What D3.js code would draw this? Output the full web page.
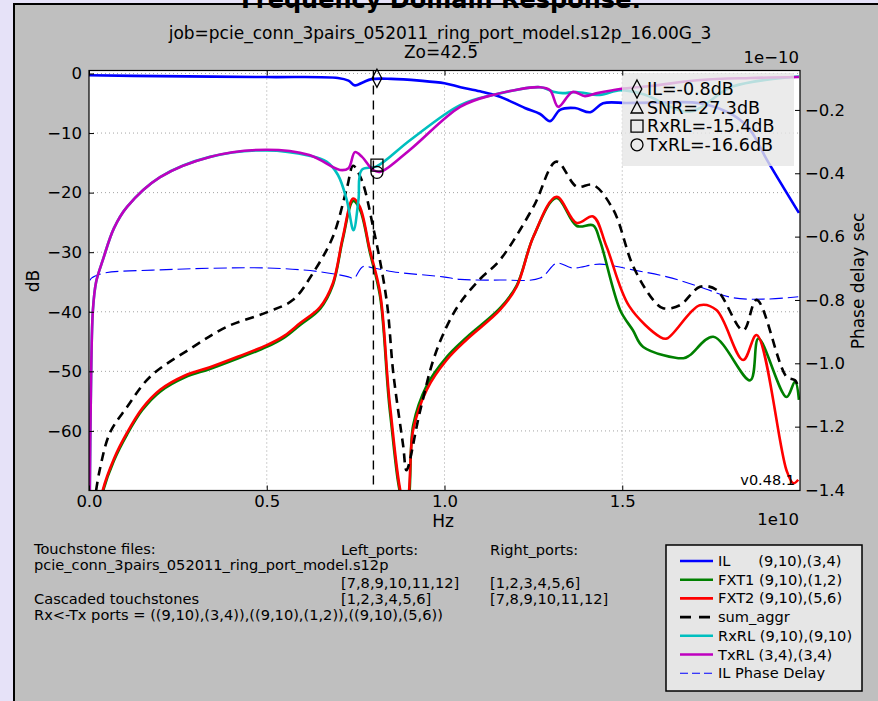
<!DOCTYPE html>
<html>
<head>
<meta charset="utf-8">
<script src="https://cdn.jsdelivr.net/npm/d3@7"></script>
<style>
  html, body { margin: 0; padding: 0; background: #e6e2f8; overflow: hidden; }
  svg { display: block; font-family: "DejaVu Sans", sans-serif; }
</style>
</head>
<body>
<svg id="chart" width="878" height="701"></svg>
<script>
// frequency in GHz, magnitude in dB
const ilData = [[0,-0.3],[2,-0.45],[5,-0.6],[7,-0.75],[7.3,-1.2],[7.48,-2.0],[7.7,-1.5],[7.95,-0.95],[8.5,-0.9],[9.3,-1.2],[10,-1.65],[10.45,-2.3],[11,-3.0],[11.56,-3.9],[12.26,-5.8],[12.69,-6.8],[12.97,-8.0],[13.25,-6.1],[13.67,-5.8],[14.1,-6.5],[14.46,-5.0],[15.13,-4.95],[16,-4.9],[17.19,-5.0],[18.12,-7.0],[18.6,-9.5],[19.07,-14.5],[19.97,-23.4]];
const fxt1Data = [[0.33,-72],[0.39,-70.2],[0.7,-65],[1.07,-60.6],[1.5,-56.5],[2.0,-53.4],[2.7,-51],[3.4,-49.6],[4.2,-47.8],[5.0,-45.9],[5.5,-44.3],[5.94,-42.2],[6.5,-39.5],[6.86,-35.5],[7.14,-27.8],[7.43,-21.4],[7.62,-22.8],[7.9,-30],[8.19,-37.5],[8.47,-57],[8.85,-72],[8.95,-72],[9.12,-59],[9.5,-52.4],[10.06,-47.6],[10.62,-44.3],[11.56,-39.4],[12.03,-35.6],[12.5,-27.4],[13.15,-20.9],[13.72,-25.6],[14.18,-25.5],[14.37,-28],[14.94,-39.7],[15.3,-43.1],[15.59,-45.9],[16.72,-47.8],[16.9,-47.3],[17.56,-44.2],[18.6,-51.5],[18.83,-44.5],[19.62,-54.3],[19.86,-51.7],[19.97,-54.8]];
const fxt2Data = [[0.33,-72],[0.39,-69.9],[0.7,-64.7],[1.07,-60.3],[1.5,-56.2],[2.0,-53.1],[2.7,-50.7],[3.4,-49.3],[4.2,-47.5],[5.0,-45.6],[5.5,-44.0],[5.94,-41.9],[6.5,-39.2],[6.86,-35.2],[7.14,-27.5],[7.43,-21.0],[7.62,-22.4],[7.9,-29.6],[8.19,-36.9],[8.47,-55.9],[8.86,-72],[8.94,-72],[9.12,-59.8],[9.5,-53.1],[10.06,-48.1],[10.62,-44.7],[11.56,-39.7],[12.03,-35.8],[12.5,-27.4],[13.15,-20.7],[13.72,-25.1],[14.18,-24.0],[14.56,-29.1],[15.2,-39.1],[16.06,-44.2],[16.25,-44.5],[17.18,-38.9],[17.65,-39.7],[18.4,-48.1],[18.78,-43.9],[19.62,-66.6],[19.81,-68.8],[19.95,-68.2]];
const sumData = [[0.2,-70],[0.3,-66.6],[0.59,-60.3],[1.07,-56],[1.72,-50.9],[2.93,-45.9],[3.88,-42.5],[5.0,-40.1],[5.74,-38.0],[6.3,-33.5],[6.86,-27.4],[7.26,-19.1],[7.43,-15.5],[7.67,-17.9],[7.99,-25.7],[8.37,-38],[8.56,-50.3],[8.84,-62.6],[8.93,-66.6],[9.3,-57],[9.69,-48],[10.06,-42.5],[10.44,-38.5],[11.0,-34.5],[11.56,-31.3],[12.5,-22.4],[13.15,-14.8],[13.72,-19.0],[14.18,-18.7],[14.75,-22.9],[15.31,-32.4],[15.87,-38.0],[16.15,-39.4],[16.62,-38.9],[17.19,-35.8],[17.65,-36.3],[18.4,-43.1],[18.78,-38.0],[19.62,-50.9],[19.86,-51.5],[19.95,-52.6]];
const rxrlData = [[0.02,-72],[0.05,-55],[0.11,-39.7],[0.2,-35],[0.39,-31.3],[0.7,-26],[1.07,-22.4],[2.0,-17.4],[3.4,-14.0],[5.0,-12.9],[6.2,-13.8],[6.68,-14.8],[7.0,-17],[7.25,-21.2],[7.44,-26.3],[7.58,-21.2],[7.67,-16.2],[8.09,-15.6],[9.03,-11.2],[10.44,-5.3],[11.36,-3.6],[12.69,-2.3],[13.06,-3.05],[13.33,-3.3],[13.7,-3.1],[14.37,-3.6],[14.94,-2.8],[15.6,-3.5],[16.9,-6.4],[18.1,-2.2],[19.97,-0.5]];
const txrlData = [[0.02,-72],[0.05,-55],[0.11,-39.7],[0.2,-35],[0.39,-31.3],[0.7,-26],[1.07,-22.4],[2.0,-17.4],[3.4,-14.0],[5.0,-12.8],[6.2,-13.7],[7.06,-16.2],[7.3,-15.9],[7.48,-13.2],[7.68,-14.0],[7.99,-16.2],[8.2,-16.5],[9.03,-12.8],[10.44,-5.6],[11.36,-3.6],[12.69,-2.3],[12.97,-2.8],[13.2,-5.6],[13.6,-3.1],[13.95,-3.8],[14.3,-3.3],[14.94,-2.6],[15.8,-2.1],[17.2,-1.1],[18.6,-0.76],[19.97,-0.6]];
// phase delay, units of 1e-10 s
const phaseData = [[0.03,-0.738],[0.07,-0.731],[0.39,-0.716],[2.0,-0.705],[5.0,-0.699],[6.5,-0.711],[7.3,-0.727],[7.45,-0.732],[7.7,-0.695],[8.0,-0.699],[8.55,-0.711],[9.96,-0.727],[10.44,-0.735],[11.56,-0.737],[12.69,-0.731],[13.16,-0.684],[13.6,-0.699],[14.37,-0.687],[15.3,-0.705],[16.26,-0.727],[17.19,-0.759],[18.12,-0.793],[19.07,-0.797],[19.95,-0.79]];

const xTicks = [0, 5, 10, 15];
const xTickLabels = ["0.0", "0.5", "1.0", "1.5"];
const dbTicks = [0, -10, -20, -30, -40, -50, -60];
const phaseTicks = [-0.2, -0.4, -0.6, -0.8, -1.0, -1.2, -1.4];

const markerFreq = 8.1;
const markerLabels = ["IL=-0.8dB", "SNR=27.3dB", "RxRL=-15.4dB", "TxRL=-16.6dB"];
const markerValues = [-0.8, null, -15.4, -16.6];
const markerShapes = ["diamond", "triangle", "square", "circle"];

const legendNames = ["IL      (9,10),(3,4)", "FXT1 (9,10),(1,2)", "FXT2 (9,10),(5,6)", "sum_aggr",
  "RxRL (9,10),(9,10)", "TxRL (3,4),(3,4)", "IL Phase Delay"];

const svg = d3.select("#chart");

// figure background
svg.append("rect").attr("x", 14).attr("y", 4).attr("width", 900).attr("height", 720)
  .attr("fill", "#bfbfbf").attr("stroke", "#000").attr("stroke-width", 2);

svg.append("text").attr("x", 441).attr("y", 8).attr("text-anchor", "middle")
  .attr("font-size", 24).attr("font-weight", "bold").text("Frequency Domain Response:");
svg.append("text").attr("x", 440).attr("y", 39).attr("text-anchor", "middle")
  .attr("font-size", 17).text("job=pcie_conn_3pairs_052011_ring_port_model.s12p_16.00G_3");
svg.append("text").attr("x", 441).attr("y", 58).attr("text-anchor", "middle")
  .attr("font-size", 17).text("Zo=42.5");

const pL = 89, pR = 800, pT = 70.5, pB = 490.5;
const x = d3.scaleLinear().domain([0, 20]).range([pL, pR]);
const y = d3.scaleLinear().domain([-70, 0.5]).range([pB, pT]);
const y2 = d3.scaleLinear().domain([-1.4016, -0.0755]).range([pB, pT]);

svg.append("rect").attr("x", pL).attr("y", pT).attr("width", pR - pL).attr("height", pB - pT)
  .attr("fill", "#fff");

svg.append("clipPath").attr("id", "plotclip").append("rect")
  .attr("x", pL).attr("y", pT).attr("width", pR - pL).attr("height", pB - pT);

// grid
const grid = svg.append("g").attr("stroke", "#000").attr("stroke-width", 0.6)
  .attr("stroke-dasharray", "1,3").attr("opacity", 0.6);
grid.selectAll("line.v").data(xTicks.slice(1)).join("line")
  .attr("x1", d => x(d)).attr("x2", d => x(d)).attr("y1", pT).attr("y2", pB);
grid.selectAll("line.h").data(dbTicks).join("line")
  .attr("x1", pL).attr("x2", pR).attr("y1", d => y(d)).attr("y2", d => y(d));

const plot = svg.append("g").attr("clip-path", "url(#plotclip)");
const line = d3.line().x(d => x(d[0])).y(d => y(d[1])).curve(d3.curveCatmullRom.alpha(0.5));
const line2 = d3.line().x(d => x(d[0])).y(d => y2(d[1])).curve(d3.curveCatmullRom.alpha(0.5));

const series = [
  { data: ilData, color: "#0000ff", width: 2.6 },
  { data: fxt1Data, color: "#008000", width: 2.6 },
  { data: fxt2Data, color: "#ff0000", width: 2.6 },
  { data: sumData, color: "#000000", width: 2.6, dash: "9,6" },
  { data: rxrlData, color: "#00bfbf", width: 2.6 },
  { data: txrlData, color: "#bf00bf", width: 2.6 }
];

plot.append("path").attr("d", line2(phaseData)).attr("fill", "none")
  .attr("stroke", "#0000ff").attr("stroke-width", 1.1).attr("stroke-dasharray", "13,5");

series.forEach(s => {
  plot.append("path").attr("d", line(s.data)).attr("fill", "none")
    .attr("stroke", s.color).attr("stroke-width", s.width)
    .attr("stroke-linejoin", "round")
    .attr("stroke-dasharray", s.dash || null);
});

// 8 GHz marker line
plot.append("line").attr("x1", x(8)).attr("x2", x(8)).attr("y1", pT).attr("y2", pB)
  .attr("stroke", "#000").attr("stroke-width", 1.4).attr("stroke-dasharray", "9,6");

function shapePath(kind, cx, cy, s) {
  if (kind === "diamond") return `M${cx},${cy - s * 0.75}L${cx + s * 0.4},${cy}L${cx},${cy + s * 0.75}L${cx - s * 0.4},${cy}Z`;
  if (kind === "triangle") return `M${cx},${cy - s * 0.5}L${cx + s * 0.5},${cy + s * 0.45}L${cx - s * 0.5},${cy + s * 0.45}Z`;
  if (kind === "square") return `M${cx - s * 0.5},${cy - s * 0.5}h${s}v${s}h${-s}Z`;
  return `M${cx + s * 0.5},${cy}A${s * 0.5},${s * 0.5} 0 1,1 ${cx - s * 0.5},${cy}A${s * 0.5},${s * 0.5} 0 1,1 ${cx + s * 0.5},${cy}Z`;
}

markerValues.forEach((v, i) => {
  if (v === null) return;
  svg.append("path").attr("d", shapePath(markerShapes[i], x(markerFreq), y(v), 12))
    .attr("fill", "none").attr("stroke", "#000").attr("stroke-width", 1.3);
});

// annotation box
svg.append("rect").attr("x", 622).attr("y", 73).attr("width", 172).attr("height", 93)
  .attr("fill", "#e6e6e6").attr("opacity", 0.8);
markerLabels.forEach((t, i) => {
  const cy = 89 + i * 18.6;
  svg.append("path").attr("d", shapePath(markerShapes[i], 637, cy, 12))
    .attr("fill", "none").attr("stroke", "#000").attr("stroke-width", 1.3);
  svg.append("text").attr("x", 647).attr("y", cy + 6).attr("font-size", 17.5).text(t);
});

svg.append("text").attr("x", 795).attr("y", 485).attr("text-anchor", "end")
  .attr("font-size", 14.5).text("v0.48.1");

// frame
svg.append("rect").attr("x", pL).attr("y", pT).attr("width", pR - pL).attr("height", pB - pT)
  .attr("fill", "none").attr("stroke", "#000").attr("stroke-width", 1.2);

// axes with inward ticks
const axisStyle = g => {
  g.select(".domain").remove();
  g.selectAll("line").attr("stroke", "#000");
  g.selectAll("text").attr("font-size", 16.5).attr("font-family", "DejaVu Sans").attr("fill", "#000");
};
svg.append("g").attr("transform", `translate(${pL},0)`)
  .call(d3.axisLeft(y).tickValues(dbTicks).tickFormat(d3.format("d")).tickSizeInner(-5).tickSizeOuter(0).tickPadding(7))
  .call(axisStyle);
svg.append("g").attr("transform", `translate(${pR},0)`)
  .call(d3.axisRight(y2).tickValues(phaseTicks).tickFormat(d3.format(".1f")).tickSizeInner(-5).tickSizeOuter(0).tickPadding(5))
  .call(axisStyle);
svg.append("g").attr("transform", `translate(0,${pB})`)
  .call(d3.axisBottom(x).tickValues(xTicks).tickFormat((d, i) => xTickLabels[i]).tickSizeInner(-5).tickSizeOuter(0).tickPadding(5))
  .call(axisStyle);
svg.append("g").attr("transform", `translate(0,${pT})`)
  .call(d3.axisTop(x).tickValues(xTicks).tickFormat("").tickSizeInner(-5).tickSizeOuter(0))
  .call(axisStyle);

svg.append("text").attr("x", 799).attr("y", 63).attr("text-anchor", "end").attr("font-size", 16.5).text("1e\u221210");
svg.append("text").attr("x", 799).attr("y", 525).attr("text-anchor", "end").attr("font-size", 16.5).text("1e10");
svg.append("text").attr("x", 443).attr("y", 527).attr("text-anchor", "middle").attr("font-size", 17).text("Hz");
svg.append("text").attr("transform", "translate(39,281) rotate(-90)").attr("text-anchor", "middle")
  .attr("font-size", 17).text("dB");
svg.append("text").attr("transform", "translate(864,281) rotate(-90)").attr("text-anchor", "middle")
  .attr("font-size", 17).text("Phase delay sec");

// touchstone notes
const notes = [
  [34, 554, "Touchstone files:"],
  [34, 570, "pcie_conn_3pairs_052011_ring_port_model.s12p"],
  [34, 604, "Cascaded touchstones"],
  [34, 620, "Rx<-Tx ports = ((9,10),(3,4)),((9,10),(1,2)),((9,10),(5,6))"],
  [341, 555, "Left_ports:"],
  [341, 588, "[7,8,9,10,11,12]"],
  [341, 604, "[1,2,3,4,5,6]"],
  [490, 555, "Right_ports:"],
  [490, 588, "[1,2,3,4,5,6]"],
  [490, 604, "[7,8,9,10,11,12]"]
];
svg.selectAll("text.note").data(notes).join("text").attr("class", "note")
  .attr("x", d => d[0]).attr("y", d => d[1]).attr("font-size", 14.6).text(d => d[2]);

// legend
const lg = svg.append("g");
lg.append("rect").attr("x", 666).attr("y", 545).attr("width", 196).attr("height", 146)
  .attr("fill", "#e6e6e6").attr("stroke", "#000").attr("stroke-width", 1.5);
const legendStyles = series.concat([{ color: "#0000ff", width: 1.1, dash: "8,4" }]);
legendStyles.forEach((s, i) => {
  const cy = 561 + i * 18.7;
  lg.append("line").attr("x1", 680).attr("x2", 713).attr("y1", cy).attr("y2", cy)
    .attr("stroke", s.color).attr("stroke-width", s.width)
    .attr("stroke-dasharray", s.dash === "9,6" ? "11,8" : (s.dash || null));
  lg.append("text").attr("x", 718).attr("y", cy + 5).attr("font-size", 14.6)
    .style("white-space", "pre").text(legendNames[i]);
});
</script>
</body>
</html>
